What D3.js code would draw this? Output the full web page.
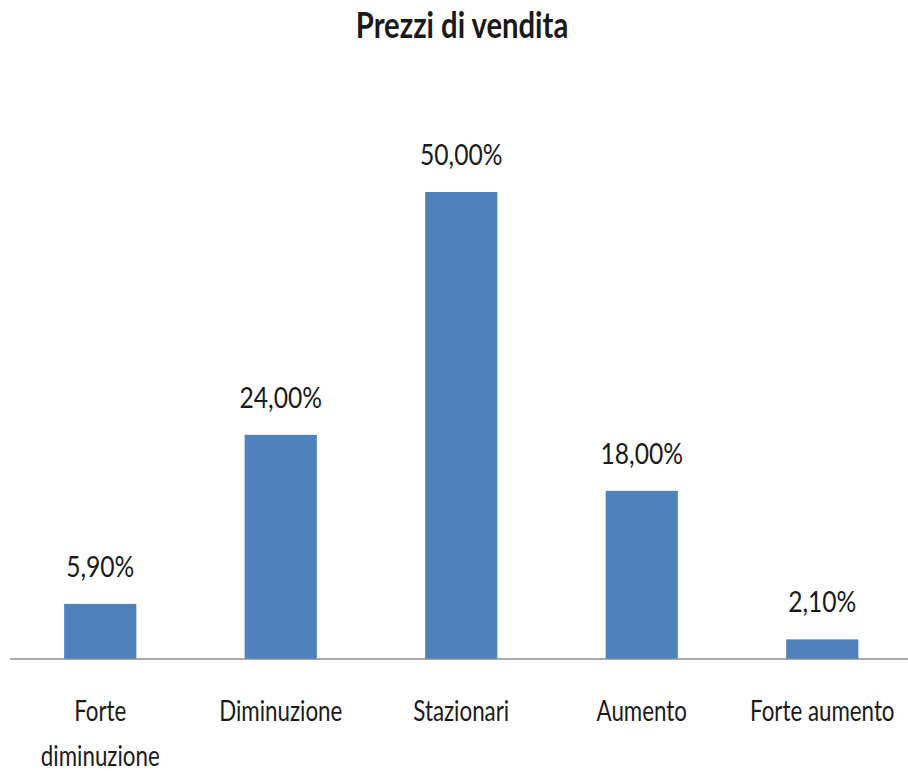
<!DOCTYPE html>
<html>
<head>
	<title>Prezzi di vendita</title>
	<script type="text/javascript" src="https://cdn.jsdelivr.net/npm/d3@7"></script>
	<style>
		body { margin: 0; background: #fff; }
		text { font-family: Lato, "Open Sans", sans-serif; fill: #1a1a1a; }
	</style>
</head>
<body>
	<script type="text/javascript">
		var width = 908,
			height = 771;

		// data
		var categories = [['Forte', 'diminuzione'], ['Diminuzione'], ['Stazionari'], ['Aumento'], ['Forte aumento']];
		var values = [5.9, 24, 50, 18, 2.1];
		var valueLabels = ['5,90%', '24,00%', '50,00%', '18,00%', '2,10%'];

		// text looks horizontally condensed in the original
		var squeezeTitle = 0.79,
			squeezeCat = 0.77,
			squeezeVal = 0.85;

		var svg = d3.select('body')
					.append('svg')
					.attr('width', width)
					.attr('height', height);

		var x = d3.scaleBand()
				.domain(d3.range(values.length))
				.range([10, 912.5])
				.paddingInner(0.6)
				.paddingOuter(0.3);

		var y = d3.scaleLinear()
				.domain([0, 50])
				.range([659, 192]);

		// title
		svg.append('text')
			.attr('transform', 'translate(462,38) scale(' + squeezeTitle + ',1)')
			.attr('text-anchor', 'middle')
			.attr('font-size', 37)
			.attr('font-weight', 'bold')
			.text('Prezzi di vendita');

		// bars
		svg.selectAll('rect.bar')
			.data(values)
			.enter()
			.append('rect')
			.attr('class', 'bar')
			.attr('fill', '#4f81bd')
			.attr('x', function(d, i){ return x(i); })
			.attr('y', function(d){ return y(d); })
			.attr('width', x.bandwidth())
			.attr('height', function(d){ return y(0) - y(d); });

		// baseline
		svg.append('line')
			.attr('x1', 10)
			.attr('x2', width)
			.attr('y1', y(0))
			.attr('y2', y(0))
			.attr('stroke', '#8c8c8c')
			.attr('stroke-width', 1.5);

		// value labels
		svg.selectAll('text.val')
			.data(values)
			.enter()
			.append('text')
			.attr('class', 'val')
			.attr('text-anchor', 'middle')
			.attr('font-size', 29)
			.attr('transform', function(d, i){
				return 'translate(' + (x(i) + x.bandwidth() / 2) + ',' + (y(d) - 27) + ') scale(' + squeezeVal + ',1)';
			})
			.text(function(d, i){ return valueLabels[i]; });

		// category labels
		var cat = svg.selectAll('text.cat')
			.data(categories)
			.enter()
			.append('text')
			.attr('class', 'cat')
			.attr('text-anchor', 'middle')
			.attr('font-size', 29)
			.attr('transform', function(d, i){
				return 'translate(' + (x(i) + x.bandwidth() / 2) + ',' + (y(0) + 62) + ') scale(' + squeezeCat + ',1)';
			});
		cat.selectAll('tspan')
			.data(function(d){ return d; })
			.enter()
			.append('tspan')
			.attr('x', 0)
			.attr('y', function(d, j){ return j * 45; })
			.text(function(d){ return d; });
	</script>
</body>
</html>
